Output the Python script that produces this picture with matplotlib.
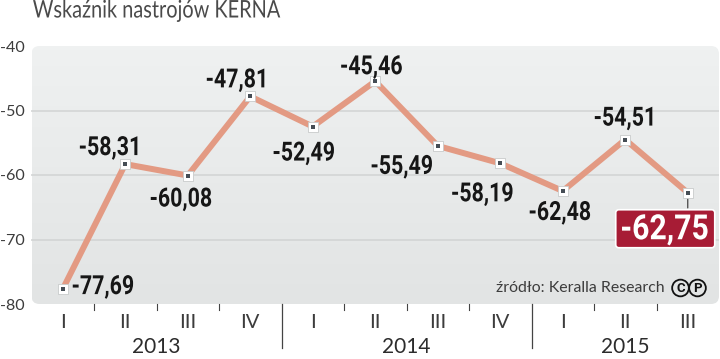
import numpy as np
import matplotlib
matplotlib.use("Agg")
import matplotlib.pyplot as plt
from matplotlib.patches import FancyBboxPatch
from matplotlib.patheffects import AbstractPathEffect
from matplotlib.transforms import Affine2D, IdentityTransform

title = "Wskaźnik nastrojów KERNA"
source = "źródło: Keralla Research"
quarters = ["I", "II", "III", "IV", "I", "II", "III", "IV", "I", "II", "III"]
years = ["2013", "2014", "2015"]
values = [-77.69, -58.31, -60.08, -47.81, -52.49, -45.46, -55.49, -58.19, -62.48, -54.51, -62.75]
value_labels = ["-77,69", "-58,31", "-60,08", "-47,81", "-52,49", "-45,46", "-55,49", "-58,19", "-62,48", "-54,51"]
highlight_label = "-62,75"
y_ticks = [-40, -50, -60, -70, -80]

W, H = 720, 359
BOLD = ["Roboto", "DejaVu Sans"]
LIGHT = ["Lato", "DejaVu Sans"]
TXT = "#3c3c3c"
px = 0.72  # points per pixel at dpi 100


class Squeeze(AbstractPathEffect):
    """Condense text horizontally about its own centre (no condensed font is installed)."""

    def __init__(self, sx):
        super().__init__()
        self.sx = sx

    def draw_path(self, renderer, gc, tpath, affine, rgbFace=None):
        cx = tpath.get_extents().x0 / 2 + tpath.get_extents().x1 / 2
        t = Affine2D().translate(-cx, 0).scale(self.sx, 1).translate(cx, 0) + affine
        renderer.draw_path(gc, tpath, t, rgbFace)


fig = plt.figure(figsize=(W / 100, H / 100), dpi=100, facecolor="white")
ax = fig.add_axes([31.5 / W, 1 - 304 / H, (719 - 31.5) / W, (304 - 46) / H])
ax.set_xlim(-0.5, 10.5)
ax.set_ylim(-80, -40)
ax.patch.set_visible(False)
for s in ax.spines.values():
    s.set_visible(False)

# Rounded panel with a faint vertical gradient
panel = FancyBboxPatch((31.5, H - 304), 687.5, 258, boxstyle="round,pad=0,rounding_size=8",
                       transform=None, fc="none", ec="none")
fig.add_artist(panel)
grad = np.linspace(0, 1, 64).reshape(-1, 1)
cmap = matplotlib.colors.LinearSegmentedColormap.from_list("p", ["#eff1f1", "#e2e4e4"])
im = ax.imshow(grad, extent=(-0.5, 10.5, -80, -40), aspect="auto", cmap=cmap, zorder=0, origin="upper")
im.set_clip_path(panel)
ax.set_xlim(-0.5, 10.5)
ax.set_ylim(-80, -40)

# Gridlines
for v in y_ticks[1:-1]:
    ax.axhline(v, color="#d1d3d3", lw=1.1, zorder=1)

# Axis ticks and labels
ax.set_yticks(y_ticks)
ax.set_yticklabels(y_ticks, fontsize=11.6, family=LIGHT, color=TXT)
ax.tick_params(axis="y", length=0, pad=5)
x = np.arange(len(values))
ax.set_xticks(x)
ax.set_xticklabels(quarters, fontsize=14.5, family=LIGHT, color=TXT)
ax.tick_params(axis="x", length=0, pad=7)

trans = ax.get_xaxis_transform()
for t in [0.5, 1.5, 2.5, 4.5, 5.5, 6.5, 8.5, 9.5]:
    ax.plot([t, t], [0, -6 / 258], transform=trans, color="#444444", lw=0.8, clip_on=False)
for t in [3.5, 7.5]:
    ax.plot([t, t], [0, -44 / 258], transform=trans, color="#444444", lw=0.9, clip_on=False)
for t, y in zip([1.5, 5.5, 9.0], years):
    ax.text(t, -43 / 258, y, transform=trans, ha="center", va="center",
            fontsize=15, family=LIGHT, color="#2c2c2c")

# Series
ax.plot(x, values, color="#e39a83", lw=6 * px, solid_joinstyle="miter", zorder=3, clip_on=False)
ax.scatter(x, values, marker="s", s=(10 * px) ** 2, c="white", edgecolors="#c8cbcb",
           linewidths=0.6, zorder=4, clip_on=False)
ax.scatter(x, values, marker="s", s=(4.5 * px) ** 2, c="#454d55", linewidths=0, zorder=5, clip_on=False)

# Value labels: pixel offsets from each point
offsets = [(40, 2), (-15, 16), (-7, -24), (-13, 16), (-9, -27), (-4, 14), (-36, -21), (-18, -31), (-3, -22), (0, 21)]
for xi, v, lab, (dx, dy) in zip(x, values, value_labels, offsets):
    ax.annotate(lab, (xi, v), xytext=(dx, dy), textcoords="offset pixels", ha="center", va="center",
                fontsize=19, family=BOLD, weight="bold", color="#161616", zorder=6,
                path_effects=[Squeeze(0.81)])

# Highlighted last value
base = ax.transData.transform((x[-1], values[-1]))
box = FancyBboxPatch((base[0] - 72, base[1] - 55), 99, 38, boxstyle="round,pad=0,rounding_size=3",
                     transform=IdentityTransform(), fc="#a71c35", ec="white", lw=1.2, zorder=7, clip_on=False)
ax.add_artist(box)
ax.annotate(highlight_label, (x[-1], values[-1]), xytext=(-23, -37), textcoords="offset pixels",
            ha="center", va="center", fontsize=25, family=BOLD, weight="bold", color="white", zorder=8,
            path_effects=[Squeeze(0.87)])
ax.annotate("", (x[-1], values[-1]), xytext=(0, -18), textcoords="offset pixels",
            arrowprops=dict(arrowstyle="-", color="#444444", lw=0.9), zorder=3.5)

# Title and source
fig.text(156.5 / W, 1 - 11 / H, title, fontsize=17.5, family=LIGHT, color="#4a4a4a", ha="center", va="center",
         path_effects=[Squeeze(0.82)])
fig.text(665 / W, 1 - 288 / H, source, fontsize=11.4, family=LIGHT, color=TXT, ha="right", va="center", zorder=9)
for cx, ch in [(680.5, "C"), (697.5, "P")]:
    fig.text(cx / W, 1 - 288 / H, ch, fontsize=9.5, family=BOLD, weight="bold", color="#111111",
             ha="center", va="center", zorder=9,
             bbox=dict(boxstyle="circle,pad=0.14", fc="none", ec="#111111", lw=1.3))

fig.savefig("out.png", dpi=100)
